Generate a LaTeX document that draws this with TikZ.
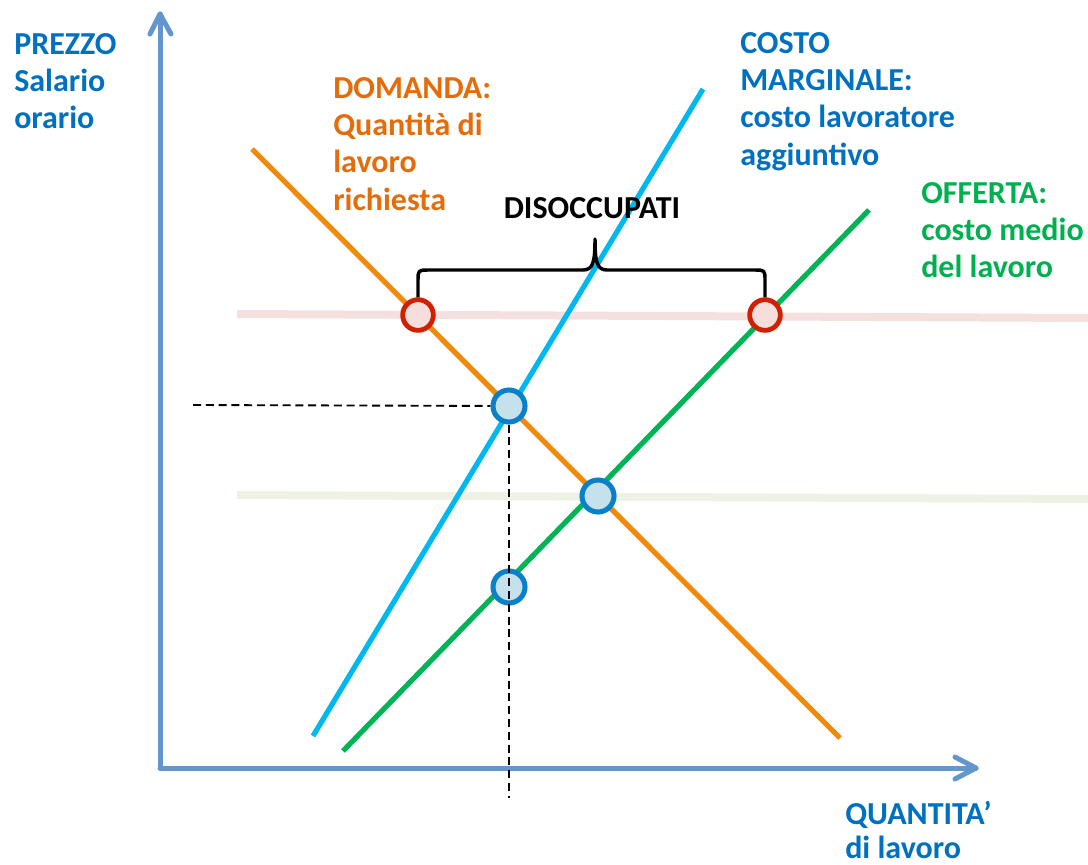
\documentclass[tikz,border=0pt]{standalone}
\usepackage{fontspec}
\setmainfont{Carlito}
\definecolor{txtblue}{HTML}{0070C0}
\definecolor{txtorange}{HTML}{E46C0A}
\definecolor{txtgreen}{HTML}{00B050}
\definecolor{axisblue}{HTML}{6296CD}
\definecolor{lineorange}{HTML}{EF8A0A}
\definecolor{linecyan}{HTML}{00B8F0}
\definecolor{linegreen}{HTML}{00B456}
\definecolor{pinkband}{HTML}{F4E1DF}
\definecolor{greenband}{HTML}{EEF2E4}
\definecolor{ptred}{HTML}{D02000}
\definecolor{ptredfill}{HTML}{F5DEDC}
\definecolor{ptblue}{HTML}{0A80C8}
\definecolor{ptbluefill}{HTML}{C5E2EC}
\begin{document}
\begin{tikzpicture}[x=0.75pt,y=-0.75pt,
  lbl/.style={anchor=base west, inner sep=0, font=\fontsize{24}{28}\selectfont\bfseries},
  axis/.style={draw=axisblue, line width=3.75pt, line cap=round, line join=round},
  curve/.style={line width=3.9pt},
  band/.style={line width=6pt},
  redpt/.style={circle, draw=ptred, fill=ptredfill, line width=3.6pt, minimum size=23pt, inner sep=0},
  bluept/.style={circle, draw=ptblue, fill=ptbluefill, line width=3.8pt, minimum size=24pt, inner sep=0},
  guide/.style={draw=black, dash pattern=on 6pt off 3.6pt, line width=1.4pt},
  bracestyle/.style={draw=black, line width=2.6pt, line join=round}
]
\useasboundingbox (0,0) rectangle (1088,864);

% axes
\coordinate (O) at (160,768);
\coordinate (ytip) at (160,14);
\coordinate (xtip) at (976,768);
\draw[axis] (O) -- (ytip);
\draw[axis] (ytip) ++(-10,20) -- (ytip) -- ++(11,20);
\draw[axis] (O) -- (xtip);
\draw[axis] (xtip) ++(-21,-11) -- (xtip) -- ++(-21,11);

% horizontal bands
\coordinate (pbL) at (237,314);
\coordinate (pbR) at (1088,318);
\coordinate (gbL) at (237,495);
\coordinate (gbR) at (1088,499);
\draw[band, draw=pinkband] (pbL) -- (pbR);
\draw[band, draw=greenband] (gbL) -- (gbR);

% curves
\coordinate (dA) at (252,149);
\coordinate (dB) at (840,738);
\coordinate (mA) at (313,736);
\coordinate (mB) at (703,89);
\coordinate (sA) at (343,751);
\coordinate (sB) at (869,210);
\draw[curve, draw=lineorange] (dA) -- (dB);
\draw[curve, draw=linecyan] (mA) -- (mB);
\draw[curve, draw=linegreen] (sA) -- (sB);

% points
\node[redpt] (U1) at (418,315) {};
\node[redpt] (U2) at (765,315) {};
\node[bluept] (E1) at (509,406) {};
\node[bluept] (E2) at (598,496) {};
\node[bluept] (E3) at (509,587) {};

% dashed guides
\coordinate (gh) at (193,405);
\coordinate (gv) at (509,798);
\draw[guide] (gh) -- (E1);
\draw[guide] (E1) -- (gv);

% brace
\coordinate (bP) at (595,239);
\draw[bracestyle] (U1.north) -- (418,281) .. controls (418,270) .. (429,270) -- (583,270)
  .. controls (593,270) and (595,262) .. (bP)
  .. controls (595,262) and (597,270) .. (607,270) -- (754,270)
  .. controls (765,270) .. (765,281) -- (U2.north);

% labels
\node[lbl, text=txtblue] (prezzo) at (14,54) {\begin{tabular}[t]{@{}l@{}}PREZZO\\Salario\\orario\end{tabular}};
\node[lbl, text=txtorange] (domanda) at (333,98) {\begin{tabular}[t]{@{}l@{}}DOMANDA:\\Quantità di\\lavoro\\richiesta\end{tabular}};
\node[lbl, text=txtblue] (costo) at (740,53) {\begin{tabular}[t]{@{}l@{}}COSTO\\MARGINALE:\\costo lavoratore\\aggiuntivo\end{tabular}};
\node[lbl, text=txtgreen] (offerta) at (921,203) {\begin{tabular}[t]{@{}l@{}}OFFERTA:\\costo medio\\del lavoro\end{tabular}};
\node[lbl, text=txtblue, font=\fontsize{24}{26}\selectfont\bfseries] (quantita) at (845,824) {\begin{tabular}[t]{@{}l@{}}QUANTITA’\\di lavoro\end{tabular}};
\node[lbl, anchor=base, text=black] (dis) at (592,218) {DISOCCUPATI};
\end{tikzpicture}
\end{document}
